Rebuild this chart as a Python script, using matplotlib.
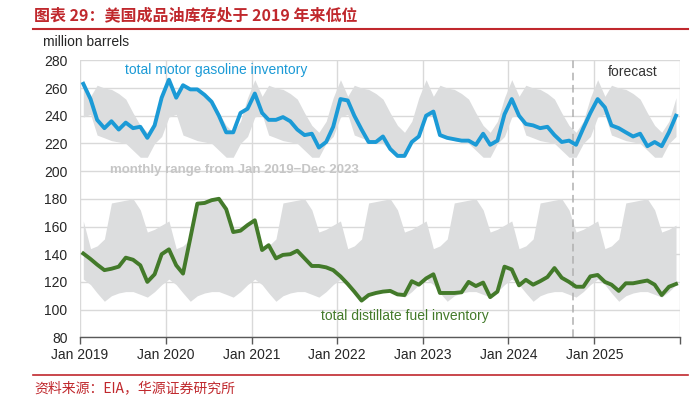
import matplotlib
matplotlib.use('Agg')
import matplotlib.pyplot as plt
from matplotlib.lines import Line2D
import numpy as np
import pandas as pd

plt.rcParams['font.family'] = ['Liberation Sans', 'Noto Sans CJK SC', 'DejaVu Sans']

# 数据（百万桶），2019年1月 - 2025年12月，按月
gasoline_2019 = [263, 252, 237, 231, 236, 230, 235, 231, 232, 224, 233, 253]
gasoline_2020 = [266, 253, 262, 259, 259, 255, 250, 240, 228, 228, 242, 245]
gasoline_2021 = [256, 242, 237, 237, 239, 236, 230, 226, 227, 217, 221, 232]
gasoline_2022 = [252, 251, 240, 230, 221, 221, 225, 216, 211, 211, 221, 225]
gasoline_2023 = [240, 243, 226, 224, 223, 222, 222, 219, 227, 219, 222, 241]
gasoline_2024 = [252, 240, 234, 233, 231, 232, 226, 221, 222, 219, 231, 242]
gasoline_2025 = [252, 246, 233, 231, 228, 225, 227, 218, 221, 218, 228, 240]

distillate_2019 = [140.5, 136.5, 132.5, 128.5, 129.5, 131, 137.5, 136, 132, 120, 125.5, 140]
distillate_2020 = [143.5, 132, 126, 151.5, 176.5, 177, 179, 180, 172.5, 156, 157, 161]
distillate_2021 = [164.5, 143, 146.5, 137, 139.5, 140, 142.5, 137, 131.5, 131.5, 130.5, 128.5]
distillate_2022 = [124, 118.5, 113, 106.5, 110.5, 112, 113, 113.5, 111, 110.5, 120.5, 118]
distillate_2023 = [122.5, 125.5, 112, 112, 112, 112.5, 120, 117, 119.5, 109, 113, 131]
distillate_2024 = [129, 117.5, 121.5, 118, 120.5, 123.5, 130, 123, 120, 116.5, 116.5, 124]
distillate_2025 = [125, 120, 118, 113.5, 119, 119, 120, 121, 118, 110.5, 116.5, 118.5]

# 2019-2023 各月区间
gas_range_hi = [266, 254, 262, 260, 259, 256, 252, 242, 233, 228, 236, 253]
gas_range_lo = [239, 241, 226, 224, 222, 221, 220, 215, 210, 210, 220, 225]
dist_range_hi = [164, 144, 146, 151, 177, 178, 179, 180, 172, 156, 158, 161]
dist_range_lo = [122, 118, 112, 106, 110, 112, 113, 113, 111, 109, 113, 118]

years = [2019, 2020, 2021, 2022, 2023, 2024, 2025]
forecast_start = '2024-10-01'

gasoline = (gasoline_2019 + gasoline_2020 + gasoline_2021 + gasoline_2022
            + gasoline_2023 + gasoline_2024 + gasoline_2025)
distillate = (distillate_2019 + distillate_2020 + distillate_2021 + distillate_2022
              + distillate_2023 + distillate_2024 + distillate_2025)

dates = pd.date_range('2019-01-01', periods=len(gasoline), freq='MS') + pd.Timedelta(days=14)
n_years = len(years)

blue = '#1b9ad6'
green = '#437a2a'
band = '#dcddde'
red = '#c0282d'

fig = plt.figure(figsize=(6.95, 3.95), dpi=100)
ax = fig.add_axes([80 / 695, 1 - 337.3 / 395, 600 / 695, 277 / 395])

# 灰色区间（每年重复）
ax.fill_between(dates, np.tile(gas_range_lo, n_years), np.tile(gas_range_hi, n_years),
                color=band, lw=0, zorder=1)
ax.fill_between(dates, np.tile(dist_range_lo, n_years), np.tile(dist_range_hi, n_years),
                color=band, lw=0, zorder=1)

ax.plot(dates, gasoline, color=blue, lw=2.8, zorder=3, solid_joinstyle='round')
ax.plot(dates, distillate, color=green, lw=2.8, zorder=3, solid_joinstyle='round')

ax.axvline(pd.Timestamp(forecast_start), color='#b0b0b0', lw=1.1, ls=(0, (5, 3)), zorder=2)

ax.set_ylim(80, 280)
ax.set_yticks(range(80, 281, 20))
ax.set_xlim(pd.Timestamp('2019-01-01'), pd.Timestamp('2026-01-01'))
xt = [pd.Timestamp(f'{y}-01-01') for y in years + [2026]]
ax.set_xticks(xt)
ax.set_xticklabels([f'Jan {y}' for y in years] + [''])

ax.grid(True, color='#d9d9d9', lw=1.0, zorder=0)
ax.set_axisbelow(True)
for s in ['left', 'right', 'top']:
    ax.spines[s].set_visible(False)
ax.spines['bottom'].set_color('#595959')
ax.spines['bottom'].set_linewidth(1.0)
ax.tick_params(axis='y', length=0, pad=9, labelsize=10, labelcolor='#262626')
ax.tick_params(axis='x', length=5, width=1, color='#595959', pad=3, labelsize=10, labelcolor='#262626')

ax.text(0.075, 0.965, 'total motor gasoline inventory', transform=ax.transAxes,
        color=blue, fontsize=10, va='center', ha='left')
ax.text(0.05, 0.604, 'monthly range from Jan 2019\u2212Dec 2023', transform=ax.transAxes,
        color='#c6c6c6', fontsize=9.5, fontweight='bold', va='center', ha='left')
ax.text(0.402, 0.077, 'total distillate fuel inventory', transform=ax.transAxes,
        color=green, fontsize=10, va='center', ha='left')
ax.text(0.88, 0.958, 'forecast', transform=ax.transAxes,
        color='#333333', fontsize=10, va='center', ha='left')

fig.text(43 / 695, 1 - 42 / 395, 'million barrels', fontsize=10, color='#262626', va='center')

fig.text(34 / 695, 1 - 15 / 395, '图表 29：美国成品油库存处于 2019 年来低位',
         family=['Noto Sans CJK SC', 'DejaVu Sans'], fontsize=11.5, fontweight='bold',
         color=red, va='center', ha='left')
fig.add_artist(Line2D([33 / 695, 0.99], [1 - 29 / 395] * 2, color=red, lw=1.5))
fig.add_artist(Line2D([33 / 695, 0.99], [1 - 375 / 395] * 2, color=red, lw=1.2))
fig.text(34 / 695, 1 - 388 / 395, '资料来源：EIA，华源证券研究所',
         family=['Noto Sans CJK SC', 'DejaVu Sans'], fontsize=10, color=red,
         va='center', ha='left')

fig.savefig('out.png', dpi=100)
